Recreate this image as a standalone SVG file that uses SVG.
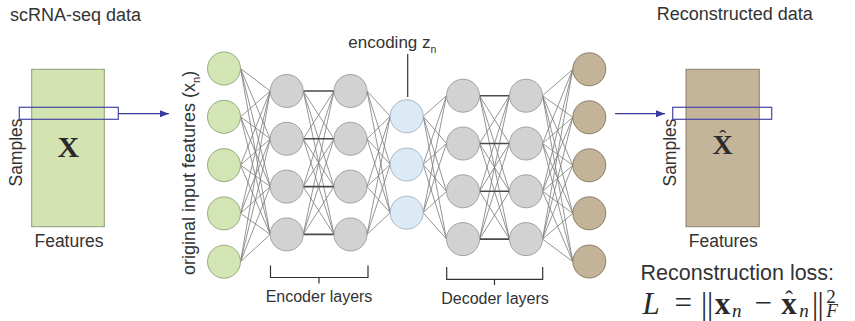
<svg xmlns="http://www.w3.org/2000/svg" width="855" height="321" viewBox="0 0 855 321">
<defs>
<style>
.lbl{font-family:"Liberation Sans",Arial,sans-serif;fill:#333}
.math{font-family:"Liberation Serif","Times New Roman",serif;fill:#2a2a2a}
.cg{fill:#d3e5b4;stroke:#9aaa80;stroke-width:1}
.cy{fill:#d2d2d3;stroke:#a2a2a2;stroke-width:1}
.cb{fill:#dceaf6;stroke:#a9b9c6;stroke-width:1}
.cn{fill:#c3b398;stroke:#8e7e64;stroke-width:1}
.edge{fill:none;stroke:#7a7a7a;stroke-width:0.8}
.hedge{fill:none;stroke:#4a4a4a;stroke-width:1.6}
.sel{fill:none;stroke:#4848a8;stroke-width:1.2}
.arr{fill:none;stroke:#3a3a9c;stroke-width:1.2}
.brk{fill:none;stroke:#333;stroke-width:1.2}
</style>
<marker id="ah" markerUnits="userSpaceOnUse" markerWidth="10" markerHeight="8" refX="9" refY="4" orient="auto">
<path d="M0,0.5 L9,4 L0,7.5 z" fill="#3a3a9c"/>
</marker>
</defs>
<rect width="855" height="321" fill="#fff"/>

<g id="input-data">
<text class="lbl" x="10" y="21" font-size="18">scRNA-seq data</text>
<rect x="31.7" y="69.3" width="72.6" height="157.4" fill="#d3e4b1" stroke="#8d9c78" stroke-width="1"/>
<text class="math" x="68.3" y="156.5" font-size="30" font-weight="bold" text-anchor="middle">X</text>
<text class="lbl" x="69" y="247" font-size="17.5" text-anchor="middle">Features</text>
<text class="lbl" font-size="17.5" text-anchor="middle" transform="translate(21.5,152.5) rotate(-90)">Samples</text>
<rect class="sel" x="19.3" y="107.3" width="99" height="12"/>
</g>

<g id="output-data">
<text class="lbl" x="656.7" y="20" font-size="18">Reconstructed data</text>
<rect x="686" y="69.3" width="73.3" height="157.4" fill="#c4b49a" stroke="#8f7f66" stroke-width="1"/>
<text class="math" text-anchor="middle"><tspan x="722.7" y="154" font-size="28" font-weight="bold">X</tspan><tspan x="722.7" y="145" font-size="22">ˆ</tspan></text>
<text class="lbl" x="723.3" y="247" font-size="17.5" text-anchor="middle">Features</text>
<text class="lbl" font-size="17.5" text-anchor="middle" transform="translate(675.5,152.5) rotate(-90)">Samples</text>
<rect class="sel" x="672.7" y="107.3" width="99" height="12"/>
</g>

<g id="connectors">
<path class="edge" d="M240.5 68.5L270.2 91M240.5 68.5L270.2 138.8M240.5 68.5L270.2 186.6M240.5 68.5L270.2 234.4M240.5 116.8L270.2 91M240.5 116.8L270.2 138.8M240.5 116.8L270.2 186.6M240.5 116.8L270.2 234.4M240.5 165.1L270.2 91M240.5 165.1L270.2 138.8M240.5 165.1L270.2 186.6M240.5 165.1L270.2 234.4M240.5 213.4L270.2 91M240.5 213.4L270.2 138.8M240.5 213.4L270.2 186.6M240.5 213.4L270.2 234.4M240.5 261.7L270.2 91M240.5 261.7L270.2 138.8M240.5 261.7L270.2 186.6M240.5 261.7L270.2 234.4"/>
<path class="edge" d="M303.2 91L334 138.8M303.2 91L334 186.6M303.2 91L334 234.4M303.2 138.8L334 91M303.2 138.8L334 186.6M303.2 138.8L334 234.4M303.2 186.6L334 91M303.2 186.6L334 138.8M303.2 186.6L334 234.4M303.2 234.4L334 91M303.2 234.4L334 138.8M303.2 234.4L334 186.6"/>
<path class="hedge" d="M303.2 91L334 91M303.2 138.8L334 138.8M303.2 186.6L334 186.6M303.2 234.4L334 234.4"/>
<path class="edge" d="M367 91L390.2 116.3M367 91L390.2 164.5M367 91L390.2 212.7M367 138.8L390.2 116.3M367 138.8L390.2 164.5M367 138.8L390.2 212.7M367 186.6L390.2 116.3M367 186.6L390.2 164.5M367 186.6L390.2 212.7M367 234.4L390.2 116.3M367 234.4L390.2 164.5M367 234.4L390.2 212.7"/>
<path class="edge" d="M423.2 116.3L446.5 95.7M423.2 116.3L446.5 143.5M423.2 116.3L446.5 191.3M423.2 116.3L446.5 239.1M423.2 164.5L446.5 95.7M423.2 164.5L446.5 143.5M423.2 164.5L446.5 191.3M423.2 164.5L446.5 239.1M423.2 212.7L446.5 95.7M423.2 212.7L446.5 143.5M423.2 212.7L446.5 191.3M423.2 212.7L446.5 239.1"/>
<path class="edge" d="M479.5 95.7L509.5 143.5M479.5 95.7L509.5 191.3M479.5 95.7L509.5 239.1M479.5 143.5L509.5 95.7M479.5 143.5L509.5 191.3M479.5 143.5L509.5 239.1M479.5 191.3L509.5 95.7M479.5 191.3L509.5 143.5M479.5 191.3L509.5 239.1M479.5 239.1L509.5 95.7M479.5 239.1L509.5 143.5M479.5 239.1L509.5 191.3"/>
<path class="hedge" d="M479.5 95.7L509.5 95.7M479.5 143.5L509.5 143.5M479.5 191.3L509.5 191.3M479.5 239.1L509.5 239.1"/>
<path class="edge" d="M542.5 95.7L572.8 69.3M542.5 95.7L572.8 117.3M542.5 95.7L572.8 165.3M542.5 95.7L572.8 213.3M542.5 95.7L572.8 261.5M542.5 143.5L572.8 69.3M542.5 143.5L572.8 117.3M542.5 143.5L572.8 165.3M542.5 143.5L572.8 213.3M542.5 143.5L572.8 261.5M542.5 191.3L572.8 69.3M542.5 191.3L572.8 117.3M542.5 191.3L572.8 165.3M542.5 191.3L572.8 213.3M542.5 191.3L572.8 261.5M542.5 239.1L572.8 69.3M542.5 239.1L572.8 117.3M542.5 239.1L572.8 165.3M542.5 239.1L572.8 213.3M542.5 239.1L572.8 261.5"/>
<path class="arr" d="M118.3 113.7L169 113.7" marker-end="url(#ah)"/>
<path class="arr" d="M615 113.7L665 113.7" marker-end="url(#ah)"/>
<path class="brk" d="M407.7 54L407.7 97"/>
</g>

<g id="input-layer">
<text class="lbl" font-size="18" transform="translate(194.5,275) rotate(-90)">original input features (x<tspan font-size="11" dy="5">n</tspan><tspan dy="-5">)</tspan></text>
<circle class="cg" cx="224" cy="68.5" r="16.5"/>
<circle class="cg" cx="224" cy="116.8" r="16.5"/>
<circle class="cg" cx="224" cy="165.1" r="16.5"/>
<circle class="cg" cx="224" cy="213.4" r="16.5"/>
<circle class="cg" cx="224" cy="261.7" r="16.5"/>
</g>

<g id="encoder-layer-1">
<circle class="cy" cx="286.7" cy="91" r="16.5"/>
<circle class="cy" cx="286.7" cy="138.8" r="16.5"/>
<circle class="cy" cx="286.7" cy="186.6" r="16.5"/>
<circle class="cy" cx="286.7" cy="234.4" r="16.5"/>
</g>

<g id="encoder-layer-2">
<circle class="cy" cx="350.5" cy="91" r="16.5"/>
<circle class="cy" cx="350.5" cy="138.8" r="16.5"/>
<circle class="cy" cx="350.5" cy="186.6" r="16.5"/>
<circle class="cy" cx="350.5" cy="234.4" r="16.5"/>
</g>

<g id="encoding">
<text class="lbl" x="348.3" y="48.3" font-size="17">encoding z<tspan font-size="10.5" dy="5">n</tspan></text>
<circle class="cb" cx="406.7" cy="116.3" r="16.5"/>
<circle class="cb" cx="406.7" cy="164.5" r="16.5"/>
<circle class="cb" cx="406.7" cy="212.7" r="16.5"/>
</g>

<g id="decoder-layer-1">
<circle class="cy" cx="463" cy="95.7" r="16.5"/>
<circle class="cy" cx="463" cy="143.5" r="16.5"/>
<circle class="cy" cx="463" cy="191.3" r="16.5"/>
<circle class="cy" cx="463" cy="239.1" r="16.5"/>
</g>

<g id="decoder-layer-2">
<circle class="cy" cx="526" cy="95.7" r="16.5"/>
<circle class="cy" cx="526" cy="143.5" r="16.5"/>
<circle class="cy" cx="526" cy="191.3" r="16.5"/>
<circle class="cy" cx="526" cy="239.1" r="16.5"/>
</g>

<g id="output-layer">
<circle class="cn" cx="589.3" cy="69.3" r="16.5"/>
<circle class="cn" cx="589.3" cy="117.3" r="16.5"/>
<circle class="cn" cx="589.3" cy="165.3" r="16.5"/>
<circle class="cn" cx="589.3" cy="213.3" r="16.5"/>
<circle class="cn" cx="589.3" cy="261.5" r="16.5"/>
</g>

<g id="encoder-bracket">
<path class="brk" d="M270.5 265.5L270.5 277.5L368 277.5L368 265.5M319 277.5L319 283.5"/>
<text class="lbl" x="319" y="301.5" font-size="16" text-anchor="middle">Encoder layers</text>
</g>

<g id="decoder-bracket">
<path class="brk" d="M446.7 267L446.7 279.3L542.7 279.3L542.7 267M494.5 279.3L494.5 285"/>
<text class="lbl" x="495" y="304" font-size="16" text-anchor="middle">Decoder layers</text>
</g>

<g id="loss">
<text class="lbl" x="640.5" y="280" font-size="21.5">Reconstruction loss:</text>
<text class="math" font-size="31" text-anchor="middle"><tspan x="651" y="314" font-style="italic">L</tspan><tspan x="683.3" y="312.5">=</tspan><tspan x="704" y="314">|</tspan><tspan x="710" y="314">|</tspan><tspan x="722.5" y="314" font-weight="bold">x</tspan><tspan x="736.7" y="316.5" font-size="19" font-style="italic">n</tspan><tspan x="763.3" y="312.5">−</tspan><tspan x="789" y="314" font-weight="bold">x</tspan><tspan x="789" y="307" font-size="24">ˆ</tspan><tspan x="804" y="316.5" font-size="19" font-style="italic">n</tspan><tspan x="815" y="314">|</tspan><tspan x="820.7" y="314">|</tspan><tspan x="831" y="303" font-size="19">2</tspan><tspan x="832" y="316.5" font-size="19" font-style="italic">F</tspan></text>
</g>
</svg>
